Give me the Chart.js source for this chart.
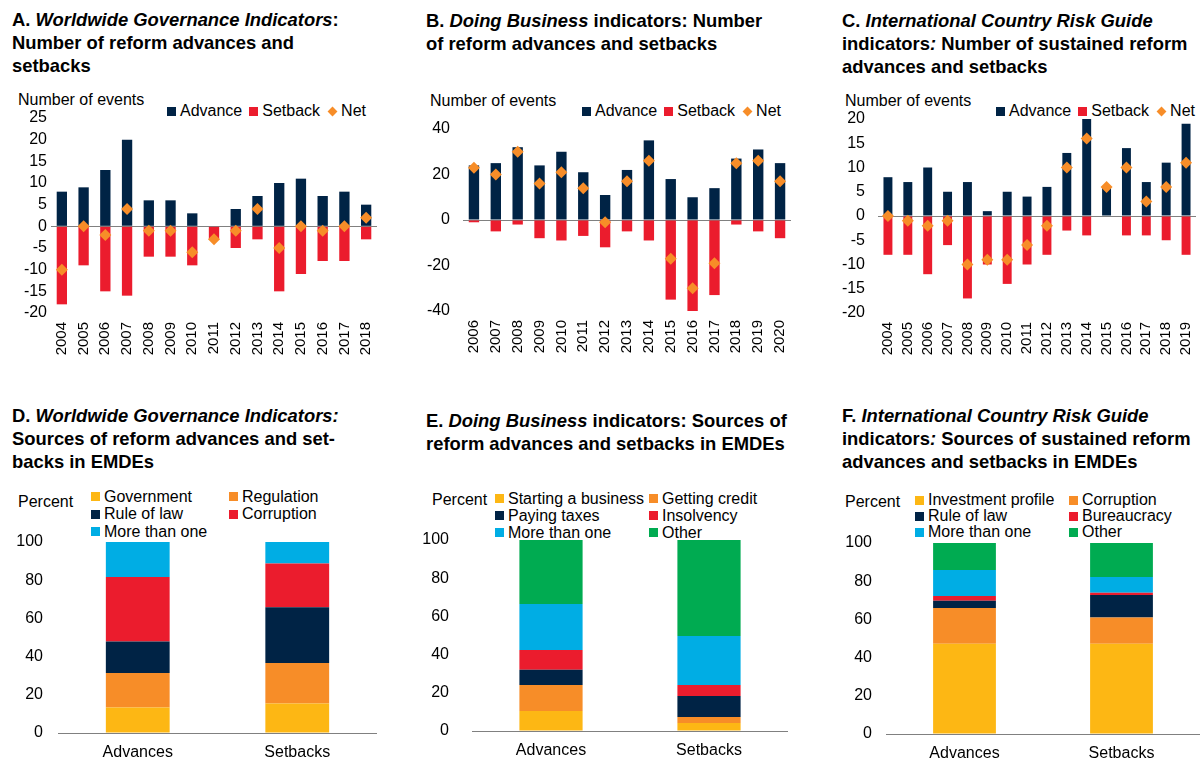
<!DOCTYPE html>
<html>
<head>
<meta charset="utf-8">
<script src="https://cdn.jsdelivr.net/npm/chart.js@4"></script>
<style>
  body { margin: 0; background: #fff; }
  #page { position: relative; width: 1202px; height: 759px; overflow: hidden; font-family: "Liberation Sans", Arial, sans-serif; color: #000; }
  .title { position: absolute; font-size: 18.4px; font-weight: bold; line-height: 23px; white-space: nowrap; }
  .unit { position: absolute; font-size: 16px; line-height: 18px; white-space: nowrap; }
  .legend-row { position: absolute; display: flex; align-items: center; font-size: 16px; line-height: 18px; white-space: nowrap; }
  .legend-row .item { display: flex; align-items: center; margin-right: 7px; }
  .legend-grid { position: absolute; display: grid; font-size: 16px; white-space: nowrap; }
  .legend-grid .item { display: flex; align-items: center; }
  .sw { width: 9px; height: 9px; margin-right: 4px; flex: none; }
  .dia { width: 7px; height: 7px; transform: rotate(45deg); margin: 0 5px 0 2px; flex: none; }
  canvas { position: absolute; }
</style>
</head>
<body>
<div id="page">
  <div class="title" style="left:12px; top:8px;">A. <i>Worldwide Governance Indicators</i>:<br>Number of reform advances and<br>setbacks</div>
  <div class="title" style="left:426px; top:9px;">B. <i>Doing Business</i> indicators: Number<br>of reform advances and setbacks</div>
  <div class="title" style="left:842px; top:9px;">C. <i>International Country Risk Guide</i><br>indicators<i>:</i> Number of sustained reform<br>advances and setbacks</div>
  <div class="title" style="left:12px; top:404px;">D. <i>Worldwide Governance Indicators:</i><br>Sources of reform advances and set-<br>backs in EMDEs</div>
  <div class="title" style="left:426px; top:409px;">E. <i>Doing Business</i> indicators: Sources of<br>reform advances and setbacks in EMDEs</div>
  <div class="title" style="left:842px; top:404px;">F. <i>International Country Risk Guide</i><br>indicators<i>:</i> Sources of sustained reform<br>advances and setbacks in EMDEs</div>

  <div class="unit" style="left:18px; top:91px;">Number of events</div>
  <div class="unit" style="left:430px; top:92px;">Number of events</div>
  <div class="unit" style="left:845px; top:92px;">Number of events</div>
  <div class="unit" style="left:18px; top:493px;">Percent</div>
  <div class="unit" style="left:432px; top:491px;">Percent</div>
  <div class="unit" style="left:845px; top:493px;">Percent</div>

  <div class="legend-row" id="legendA" style="left:167px; top:102px;"></div>
  <div class="legend-row" id="legendB" style="left:582px; top:102px;"></div>
  <div class="legend-row" id="legendC" style="left:996px; top:102px;"></div>
  <div class="legend-grid" id="legendD" style="left:91px; top:488px; grid-template-columns:138px 150px; grid-auto-rows:17.5px;"></div>
  <div class="legend-grid" id="legendE" style="left:495px; top:490px; grid-template-columns:154px 150px; grid-auto-rows:17px;"></div>
  <div class="legend-grid" id="legendF" style="left:915px; top:492px; grid-template-columns:154px 150px; grid-auto-rows:16px;"></div>

  <canvas id="chartA" width="390" height="260" style="left:0px; top:100px;"></canvas>
  <canvas id="chartB" width="400" height="260" style="left:400px; top:100px;"></canvas>
  <canvas id="chartC" width="402" height="260" style="left:800px; top:100px;"></canvas>
  <canvas id="chartD" width="390" height="229" style="left:0px; top:530px;"></canvas>
  <canvas id="chartE" width="400" height="229" style="left:400px; top:530px;"></canvas>
  <canvas id="chartF" width="402" height="229" style="left:800px; top:530px;"></canvas>
</div>
<script>
  // ===== Data =====
  const yearsA = ['2004', '2005', '2006', '2007', '2008', '2009', '2010', '2011', '2012', '2013', '2014', '2015', '2016', '2017', '2018'];
  const advanceA = [8, 9, 13, 20, 6, 6, 3, 0, 4, 7, 10, 11, 7, 8, 5];
  const setbackA = [-18, -9, -15, -16, -7, -7, -9, -3, -5, -3, -15, -11, -8, -8, -3];
  const netA = [-10, 0, -2, 4, -1, -1, -6, -3, -1, 4, -5, 0, -1, 0, 2];

  const yearsB = ['2006', '2007', '2008', '2009', '2010', '2011', '2012', '2013', '2014', '2015', '2016', '2017', '2018', '2019', '2020'];
  const advanceB = [24, 25, 32, 24, 30, 21, 11, 22, 35, 18, 10, 14, 27, 31, 25];
  const setbackB = [-1, -5, -2, -8, -9, -7, -12, -5, -9, -35, -40, -33, -2, -5, -8];
  const netB = [23, 20, 30, 16, 21, 14, -1, 17, 26, -17, -30, -19, 25, 26, 17];

  const yearsC = ['2004', '2005', '2006', '2007', '2008', '2009', '2010', '2011', '2012', '2013', '2014', '2015', '2016', '2017', '2018', '2019'];
  const advanceC = [8, 7, 10, 5, 7, 1, 5, 4, 6, 13, 20, 6, 14, 7, 11, 19];
  const setbackC = [-8, -8, -12, -6, -17, -10, -14, -10, -8, -3, -4, 0, -4, -4, -5, -8];
  const netC = [0, -1, -2, -1, -10, -9, -9, -6, -2, 10, 16, 6, 10, 3, 6, 11];

  const groups = ['Advances', 'Setbacks'];

  const labelsD = ['Government', 'Regulation', 'Rule of law', 'Corruption', 'More than one'];
  const governmentD = [13.4, 15.5];
  const regulationD = [18.0, 21.1];
  const ruleOfLawD = [16.5, 29.3];
  const corruptionD = [33.8, 22.8];
  const moreThanOneD = [18.3, 11.3];

  const labelsE = ['Starting a business', 'Getting credit', 'Paying taxes', 'Insolvency', 'More than one', 'Other'];
  const startingE = [10.5, 4.2];
  const creditE = [13.6, 3.1];
  const taxesE = [8.0, 11.0];
  const insolvencyE = [10.3, 5.8];
  const moreThanOneE = [24.1, 25.6];
  const otherE = [33.5, 50.3];

  const labelsF = ['Investment profile', 'Corruption', 'Rule of law', 'Bureaucracy', 'More than one', 'Other'];
  const investmentF = [47.2, 47.2];
  const corruptionF = [18.8, 13.8];
  const ruleOfLawF = [3.7, 11.8];
  const bureaucracyF = [2.6, 1.1];
  const moreThanOneF = [13.6, 8.3];
  const otherF = [14.1, 17.8];

  // ===== Style =====
  const NAVY = '#002345';
  const RED = '#eb1c2d';
  const ORANGE = '#f78d28';
  const YELLOW = '#fdb714';
  const CYAN = '#00ade4';
  const GREEN = '#00ab51';
  const FONT = '"Liberation Sans", Arial, sans-serif';

  Chart.defaults.font.family = FONT;
  Chart.defaults.color = '#000';

  const zeroLine = (ctx) => ctx.tick.value === 0 ? '#808080' : 'rgba(0,0,0,0)';

  // ===== Legends =====
  function buildLegend(id, items) {
    const box = document.getElementById(id);
    box.innerHTML = items.map(([text, color, shape]) =>
      `<span class="item"><span class="${shape === 'diamond' ? 'dia' : 'sw'}" style="background:${color}"></span>${text}</span>`
    ).join('');
  }

  const eventLegend = [['Advance', NAVY], ['Setback', RED], ['Net', ORANGE, 'diamond']];
  buildLegend('legendA', eventLegend);
  buildLegend('legendB', eventLegend);
  buildLegend('legendC', eventLegend);

  const colorsD = [YELLOW, ORANGE, NAVY, RED, CYAN];
  const colorsEF = [YELLOW, ORANGE, NAVY, RED, CYAN, GREEN];
  buildLegend('legendD', labelsD.map((l, i) => [l, colorsD[i]]));
  buildLegend('legendE', labelsE.map((l, i) => [l, colorsEF[i]]));
  buildLegend('legendF', labelsF.map((l, i) => [l, colorsEF[i]]));

  // ===== Charts =====
  // box: y axis width, x axis height, padding top/right, tick paddings
  function baseOptions(box, yRange) {
    return {
      responsive: false,
      animation: false,
      devicePixelRatio: 1,
      layout: { padding: { top: box.padTop, right: box.padRight, left: 0, bottom: 0 } },
      plugins: { legend: { display: false }, tooltip: { enabled: false } },
      scales: {
        x: {
          stacked: box.stacked,
          grid: { display: false, drawTicks: false },
          border: { display: false },
          ticks: {
            font: { size: box.xFont },
            padding: box.xPad,
            autoSkip: false,
            minRotation: box.rotate ? 90 : 0,
            maxRotation: box.rotate ? 90 : 0
          },
          afterFit: (s) => { s.height = box.xh; s.paddingLeft = 0; s.paddingRight = 0; }
        },
        y: {
          stacked: box.stacked,
          min: yRange[0],
          max: yRange[1],
          grid: { color: zeroLine, lineWidth: 1, drawTicks: false },
          border: { display: false },
          ticks: { stepSize: yRange[2], autoSkip: false, font: { size: 16 }, padding: box.yPad },
          afterFit: (s) => { s.width = box.yw; s.paddingTop = 0; s.paddingBottom = 0; }
        }
      }
    };
  }

  function eventChart(id, years, adv, set, net, yRange, box) {
    return new Chart(document.getElementById(id), {
      type: 'bar',
      data: {
        labels: years,
        datasets: [
          { type: 'line', label: 'Net', data: net, showLine: false, pointStyle: 'rectRot', pointRadius: 6,
            pointBorderWidth: 0, backgroundColor: ORANGE, borderColor: ORANGE, order: 0 },
          { label: 'Advance', data: adv, backgroundColor: NAVY, grouped: false,
            barPercentage: box.barPct, categoryPercentage: 1, order: 1 },
          { label: 'Setback', data: set, backgroundColor: RED, grouped: false,
            barPercentage: box.barPct, categoryPercentage: 1, order: 1 }
        ]
      },
      options: baseOptions(box, yRange)
    });
  }

  function sourceChart(id, labels, series, colors, box) {
    return new Chart(document.getElementById(id), {
      type: 'bar',
      data: {
        labels: groups,
        datasets: series.map((data, i) => ({
          label: labels[i], data: data, backgroundColor: colors[i],
          barPercentage: 0.4, categoryPercentage: 1
        }))
      },
      options: baseOptions(box, [0, 100, 20])
    });
  }

  const topBox = { stacked: false, rotate: true, xFont: 15, xPad: 9 };
  const bottomBox = { stacked: true, rotate: false, xFont: 16, xPad: 10 };

  eventChart('chartA', yearsA, advanceA, setbackA, netA, [-20, 25, 5],
    { ...topBox, yw: 51, xh: 47, padTop: 18, padRight: 13, yPad: 4, barPct: 0.475 });
  eventChart('chartB', yearsB, advanceB, setbackB, netB, [-40, 40, 20],
    { ...topBox, yw: 63, xh: 49, padTop: 29, padRight: 9, yPad: 13, barPct: 0.475 });
  eventChart('chartC', yearsC, advanceC, setbackC, netC, [-20, 20, 5],
    { ...topBox, yw: 78, xh: 47, padTop: 19, padRight: 0, yPad: 13, barPct: 0.45 });

  sourceChart('chartD', labelsD, [governmentD, regulationD, ruleOfLawD, corruptionD, moreThanOneD], colorsD,
    { ...bottomBox, yw: 58, xh: 26, padTop: 12, padRight: 13, yPad: 15 });
  sourceChart('chartE', labelsE, [startingE, creditE, taxesE, insolvencyE, moreThanOneE, otherE], colorsEF,
    { ...bottomBox, yw: 72, xh: 28, padTop: 10, padRight: 12, yPad: 23 });
  sourceChart('chartF', labelsF, [investmentF, corruptionF, ruleOfLawF, bureaucracyF, moreThanOneF, otherF], colorsEF,
    { ...bottomBox, yw: 86, xh: 25, padTop: 13, padRight: 2, yPad: 14 });
</script>
</body>
</html>
